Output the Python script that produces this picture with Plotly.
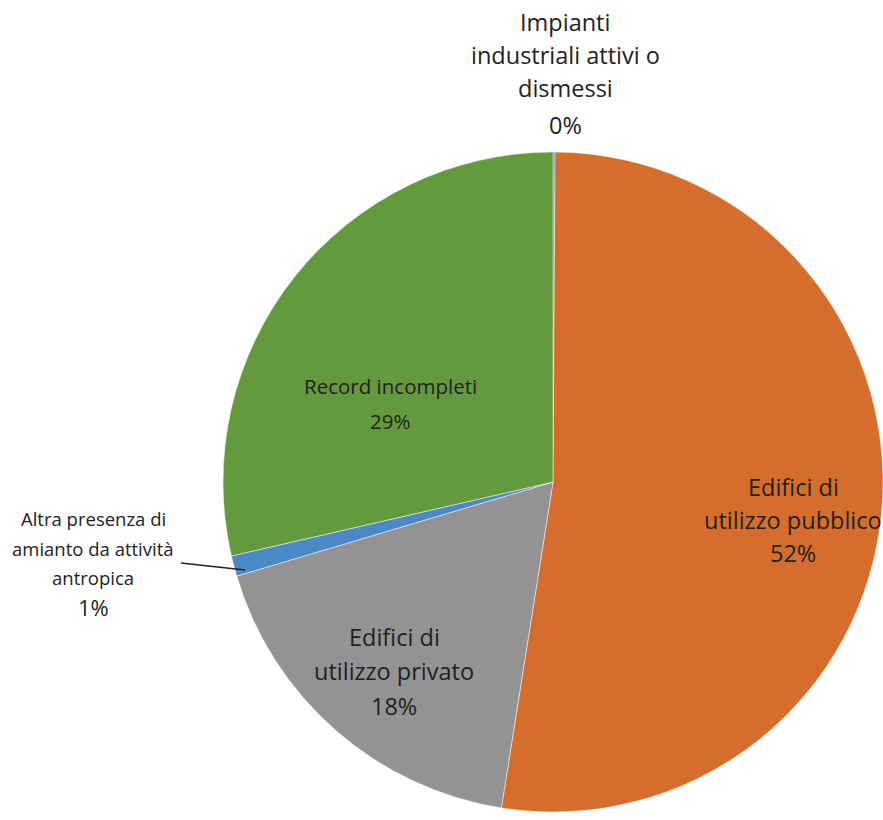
import plotly.graph_objects as go

categories = ["Impianti industriali attivi o dismessi", "Edifici di utilizzo pubblico",
              "Edifici di utilizzo privato", "Altra presenza di amianto da attività antropica",
              "Record incompleti"]
values = [0.1, 52.4, 17.9, 1.0, 28.6]
colors = ["#4B88C6", "#D56E2C", "#939393", "#4B88C6", "#649A3E"]

# label lines (text only)
label_lines = [
    ["Impianti", "industriali attivi o", "dismessi", "0%"],
    ["Edifici di", "utilizzo pubblico", "52%"],
    ["Edifici di", "utilizzo privato", "18%"],
    ["Altra presenza di", "amianto da attività", "antropica", "1%"],
    ["Record incompleti", "29%"],
]

FW, FH = 883, 820
L, R, T, B = 223, 0, 152, 8
PW, PH = FW - L - R, FH - T - B

def px(x):
    return (x - L) / PW

def py(y):
    return (FH - B - y) / PH

fig = go.Figure(go.Pie(
    labels=categories, values=values, sort=False, direction="clockwise", rotation=0,
    marker=dict(colors=colors, line=dict(color="rgba(255,255,255,0.6)", width=0.8)),
    textinfo="none", hoverinfo="label+percent", showlegend=False,
))

# label placement (pixel centres of lines) and font sizes
placements = [
    (565, [22, 55, 88, 125], 23.5),
    (793, [487, 520, 553], 23.5),
    (394, [637, 671, 706], 23.5),
    (93, [518, 548, 577, 607], 18.5),
    (390, [386, 421], 20.5),
]
annotations = []
for lines, (cx, ys, fs) in zip(label_lines, placements):
    for i, (t, yy) in enumerate(zip(lines, ys)):
        size = fs
        if fs == 18.5 and i == len(lines) - 1:
            size = 22
        annotations.append(dict(
            text=t, x=px(cx), y=py(yy), xref="paper", yref="paper",
            xanchor="center", yanchor="middle", showarrow=False,
            font=dict(family="Open Sans, sans-serif", size=size, color="#222222"),
        ))

fig.add_shape(type="line", xref="paper", yref="paper",
              x0=px(181), y0=py(563), x1=px(245), y1=py(570),
              line=dict(color="#222222", width=1.3))

fig.update_layout(
    width=FW, height=FH, margin=dict(l=L, r=R, t=T, b=B),
    paper_bgcolor="white", plot_bgcolor="white",
    annotations=annotations,
)

fig.write_html("out.html")
